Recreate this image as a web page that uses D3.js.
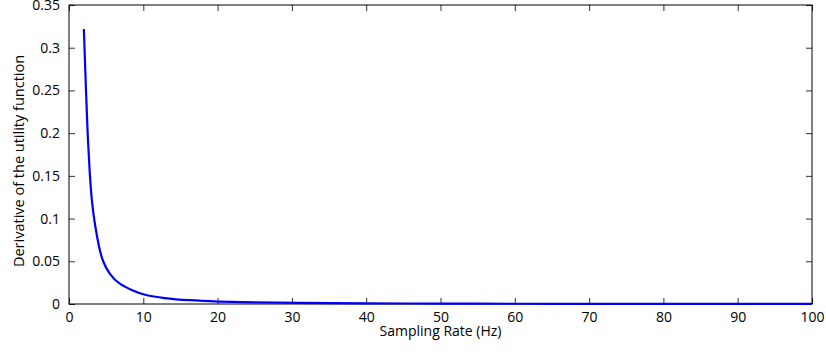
<!DOCTYPE html>
<html>
<head>
<meta charset="utf-8">
<script src="https://cdn.jsdelivr.net/npm/d3@7"></script>
<style>
  body { margin: 0; background: #fff; }
  text { font-family: "Open Sans", sans-serif; fill: #000; }
</style>
</head>
<body>
<div id="chart"></div>
<script>
// values
var rateHz = [2, 2.3, 2.5, 2.8, 3.1, 3.5, 4.0, 4.5, 5.5, 6.7, 8.7, 10, 12.8, 16, 20, 25, 30, 40, 50, 60, 70, 80, 90, 100];
var derivative = [0.322, 0.246, 0.2, 0.15, 0.117, 0.092, 0.068, 0.05, 0.034, 0.0234, 0.0152, 0.0108, 0.0066, 0.0043, 0.0028, 0.0018, 0.0012, 0.0007, 0.00045, 0.0003, 0.0002, 0.00015, 0.00012, 0.0001];
var xTicks = [0, 10, 20, 30, 40, 50, 60, 70, 80, 90, 100];
var yTicks = [0, 0.05, 0.1, 0.15, 0.2, 0.25, 0.3, 0.35];

var width = 826;
var height = 354;
var margin = { top: 5, right: 14, left: 69, bottom: 50 };
var tickLen = 6;

var data = rateHz.map((r, i) => ({ x: r, y: derivative[i] }));

var x = d3.scaleLinear().domain([0, 100]).range([margin.left, width - margin.right]);
var y = d3.scaleLinear().domain([0, 0.35]).range([height - margin.bottom, margin.top]);

var svg = d3
  .select("#chart")
  .append("svg")
  .attr("width", width)
  .attr("height", height);

// x axes (bottom with labels, top ticks only)
svg
  .append("g")
  .attr("transform", `translate(0,${y(0)})`)
  .call(d3.axisBottom(x).tickValues(xTicks).tickSize(-tickLen).tickPadding(8).tickFormat(d3.format("d")))
  .call((g) => g.select(".domain").remove());
svg
  .append("g")
  .attr("transform", `translate(0,${y(0.35)})`)
  .call(d3.axisTop(x).tickValues(xTicks).tickSize(-tickLen).tickFormat(""))
  .call((g) => g.select(".domain").remove());

// y axes (left with labels, right ticks only)
svg
  .append("g")
  .attr("transform", `translate(${x(0)},0)`)
  .call(d3.axisLeft(y).tickValues(yTicks).tickSize(-tickLen).tickPadding(tickLen + 3).tickFormat((d) => d3.format("")(+d.toFixed(2))))
  .call((g) => g.select(".domain").remove());
svg
  .append("g")
  .attr("transform", `translate(${x(100)},0)`)
  .call(d3.axisRight(y).tickValues(yTicks).tickSize(-tickLen).tickFormat(""))
  .call((g) => g.select(".domain").remove());

svg.selectAll(".tick line").attr("stroke", "#333");
svg.selectAll(".tick text").style("font-size", "14px").attr("fill", "#000");

// box
svg
  .append("rect")
  .attr("x", x(0))
  .attr("y", y(0.35))
  .attr("width", x(100) - x(0))
  .attr("height", y(0) - y(0.35))
  .attr("fill", "none")
  .attr("stroke", "#000")
  .attr("stroke-width", 1);

// curve (basis smooths out reading noise)
var line = d3
  .line()
  .x((d) => x(d.x))
  .y((d) => y(d.y))
  .curve(d3.curveBasis);

svg
  .append("path")
  .datum(data)
  .attr("d", line)
  .attr("fill", "none")
  .attr("stroke", "#0000ff")
  .attr("stroke-width", 2.2);

// axis labels
svg
  .append("text")
  .attr("x", (x(0) + x(100)) / 2)
  .attr("y", 336)
  .attr("text-anchor", "middle")
  .style("font-size", "14px")
  .text("Sampling Rate (Hz)");

svg
  .append("text")
  .attr("transform", `translate(24,161) rotate(-90)`)
  .attr("text-anchor", "middle")
  .style("font-size", "14.5px")
  .text("Derivative of the utility function");
</script>
</body>
</html>
